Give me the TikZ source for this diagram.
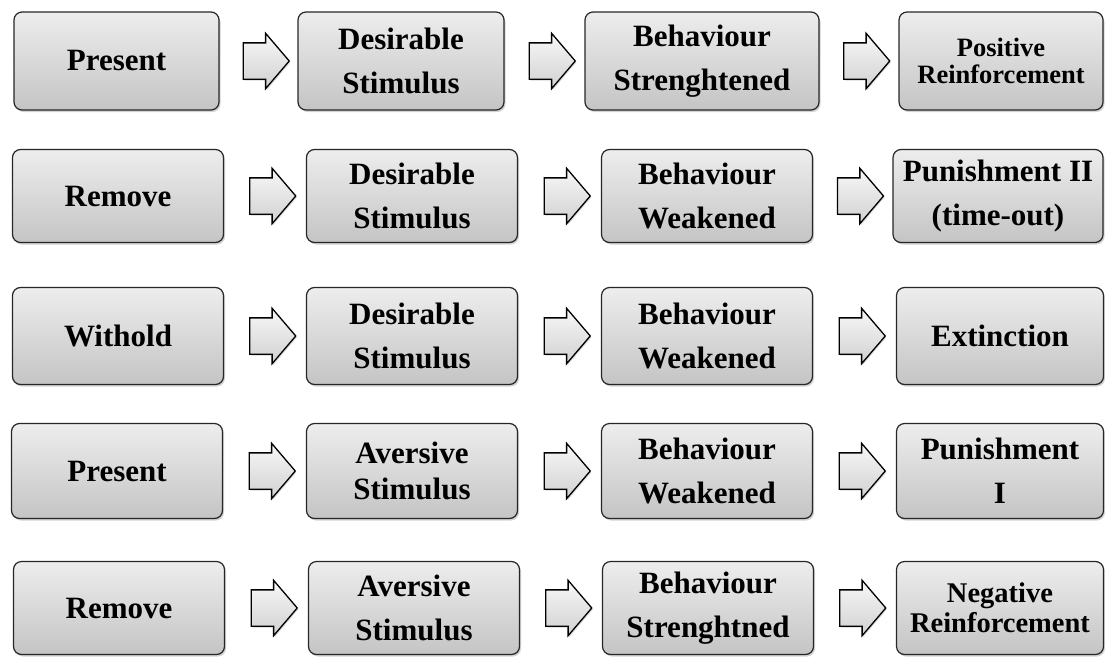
\documentclass[tikz,border=0pt]{standalone}
\usepackage{fontspec}
\setmainfont{Liberation Serif}
\usetikzlibrary{shapes.arrows, shadows, calc}

\begin{document}
\begin{tikzpicture}[
    x=1pt, y=-1pt,
    box/.style={draw=black!85, line width=1.2pt, rounded corners=8pt, top color=gray!14, bottom color=gray!46, minimum width=211pt, minimum height=95pt, align=center, inner sep=0pt, font=\fontsize{31}{44}\selectfont\bfseries, drop shadow={shadow xshift=1.5pt, shadow yshift=-2pt, opacity=0.35, fill=gray}},
    small_text/.style={font=\fontsize{26.5}{27}\selectfont\bfseries},
    block_arrow/.style={single arrow, draw=black, line width=1.3pt, top color=gray!6, bottom color=gray!36, minimum height=46pt, inner xsep=0pt, inner ysep=17.5pt, single arrow head extend=9.5pt, single arrow tip angle=99, drop shadow={shadow xshift=1pt, shadow yshift=-1.5pt, opacity=0.3, fill=gray}}
]

\useasboundingbox (0,0) rectangle (1105,656);

% ROW 1: POSITIVE REINFORCEMENT
\node[box, minimum width=205pt, minimum height=98pt] (r1a) at (116.5, 61) {Present};
\node[box, minimum width=206pt, minimum height=98pt] (r1b) at (401, 61) {Desirable\\Stimulus};
\node[box, minimum width=234pt, minimum height=98pt] (r1c) at (702, 61) {Behaviour\\Strenghtened};
\node[box, minimum width=204pt, minimum height=98pt, small_text] (r1d) at (1001, 61) {Positive\\Reinforcement};

\node[block_arrow] (r1p) at ($(r1a.east)!0.5!(r1b.west)$) {};
\node[block_arrow] (r1q) at ($(r1b.east)!0.5!(r1c.west)$) {};
\node[block_arrow] (r1r) at ($(r1c.east)!0.5!(r1d.west)$) {};

% ROW 2: PUNISHMENT II
\node[box, minimum height=93pt] (r2a) at (118, 196) {Remove};
\node[box, minimum height=93pt] (r2b) at (412, 196) {Desirable\\Stimulus};
\node[box, minimum height=93pt] (r2c) at (707, 196) {Behaviour\\Weakened};
\node[box, minimum height=93pt, minimum width=210pt] (r2d) at (998, 196) {Punishment II\\(time-out)};

\node[block_arrow] (r2p) at ($(r2a.east)!0.5!(r2b.west)$) {};
\node[block_arrow] (r2q) at ($(r2b.east)!0.5!(r2c.west)$) {};
\node[block_arrow] (r2r) at ($(r2c.east)!0.5!(r2d.west)$) {};

% ROW 3: EXTINCTION
\node[box, minimum height=97pt] (r3a) at (118, 336) {Withold};
\node[box, minimum height=97pt] (r3b) at (412, 336) {Desirable\\Stimulus};
\node[box, minimum height=97pt] (r3c) at (707, 336) {Behaviour\\Weakened};
\node[box, minimum height=97pt, minimum width=207pt] (r3d) at (1000, 336) {Extinction};

\node[block_arrow] (r3p) at ($(r3a.east)!0.5!(r3b.west)$) {};
\node[block_arrow] (r3q) at ($(r3b.east)!0.5!(r3c.west)$) {};
\node[block_arrow] (r3r) at ($(r3c.east)!0.5!(r3d.west)$) {};

% ROW 4: PUNISHMENT I
\node[box] (r4a) at (117, 471) {Present};
\node[box, font=\fontsize{31}{36}\selectfont\bfseries] (r4b) at (412, 471) {Aversive\\Stimulus};
\node[box] (r4c) at (707, 471) {Behaviour\\Weakened};
\node[box, minimum width=207pt] (r4d) at (1000, 471) {Punishment\\I};

\node[block_arrow] (r4p) at ($(r4a.east)!0.5!(r4b.west)$) {};
\node[block_arrow] (r4q) at ($(r4b.east)!0.5!(r4c.west)$) {};
\node[block_arrow] (r4r) at ($(r4c.east)!0.5!(r4d.west)$) {};

% ROW 5: NEGATIVE REINFORCEMENT
\node[box, minimum height=93pt] (r5a) at (119, 608) {Remove};
\node[box, minimum height=93pt] (r5b) at (414, 608) {Aversive\\Stimulus};
\node[box, minimum height=93pt] (r5c) at (708, 608) {Behaviour\\Strenghtned};
\node[box, minimum height=93pt, minimum width=207pt, font=\fontsize{28.5}{30}\selectfont\bfseries] (r5d) at (1000, 608) {Negative\\Reinforcement};

\node[block_arrow] (r5p) at ($(r5a.east)!0.5!(r5b.west)$) {};
\node[block_arrow] (r5q) at ($(r5b.east)!0.5!(r5c.west)$) {};
\node[block_arrow] (r5r) at ($(r5c.east)!0.5!(r5d.west)$) {};

\end{tikzpicture}
\end{document}
